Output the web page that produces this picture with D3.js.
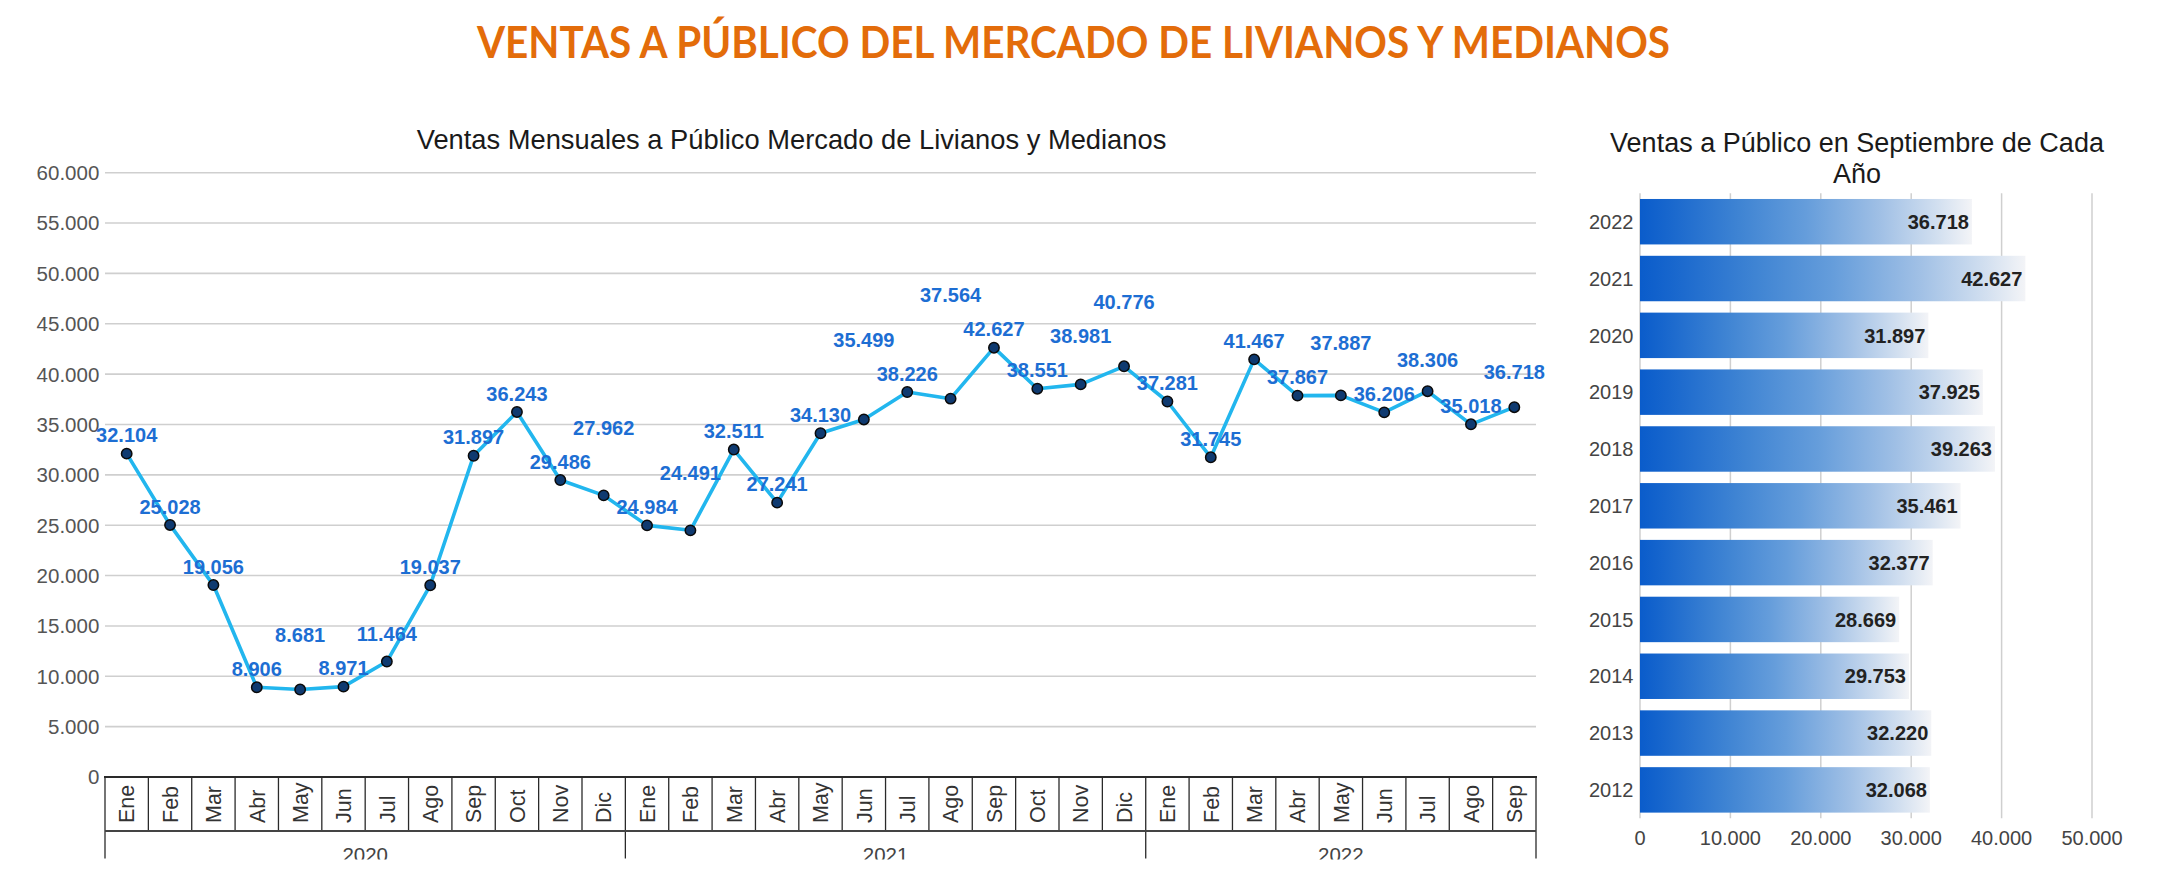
<!DOCTYPE html>
<html>
<head>
<meta charset="utf-8">
<script src="https://cdn.jsdelivr.net/npm/d3@7"></script>
<style>
  html, body { margin: 0; padding: 0; background: #ffffff; }
  svg { display: block; }
</style>
</head>
<body>
<svg id="chart" width="2158" height="896"></svg>
<script>
// ---------------- DATA ----------------
const mainTitle = "VENTAS A PÚBLICO DEL MERCADO DE LIVIANOS Y MEDIANOS";
const lineTitle = "Ventas Mensuales a Público Mercado de Livianos y Medianos";
const barTitleLines = ["Ventas a Público en Septiembre de Cada", "Año"];

const monthNames = ["Ene","Feb","Mar","Abr","May","Jun","Jul","Ago","Sep","Oct","Nov","Dic"];
const lineYears = ["2020","2021","2022"];
const monthsPerYear = [12, 12, 9];
const monthlySales = [
  32104, 25028, 19056, 8906, 8681, 8971, 11464, 19037, 31897, 36243, 29486, 27962,
  24984, 24491, 32511, 27241, 34130, 35499, 38226, 37564, 42627, 38551, 38981, 40776,
  37281, 31745, 41467, 37867, 37887, 36206, 38306, 35018, 36718
];
const lineYTicks = [0, 5000, 10000, 15000, 20000, 25000, 30000, 35000, 40000, 45000, 50000, 55000, 60000];

const septYears = ["2022","2021","2020","2019","2018","2017","2016","2015","2014","2013","2012"];
const septSales = [36718, 42627, 31897, 37925, 39263, 35461, 32377, 28669, 29753, 32220, 32068];
const barXTicks = [0, 10000, 20000, 30000, 40000, 50000];

// ---------------- SETUP ----------------
const FONT = "'Liberation Sans', Arial, sans-serif";
const loc = d3.formatLocale({decimal: ",", thousands: ".", grouping: [3], currency: ["$", ""]});
const fmt = loc.format(",d");
const svg = d3.select("#chart");
svg.append("rect").attr("width", 2158).attr("height", 896).attr("fill", "#fff");

// Main title
const mt = svg.append("text")
  .attr("x", 1073.5).attr("y", 58.3)
  .attr("text-anchor", "middle")
  .attr("font-family", "Lato, 'Open Sans', sans-serif")
  .attr("font-weight", 700)
  .attr("font-size", 44)
  .attr("fill", "#E36C0A")
  .text(mainTitle);
{
  const w = mt.node().getComputedTextLength();
  const target = 1193;
  if (Math.abs(w - target) > 4) mt.attr("textLength", target).attr("lengthAdjust", "spacingAndGlyphs");
}

// ---------------- LINE CHART ----------------
const categories = [];
lineYears.forEach((yr, yi) => {
  for (let m = 0; m < monthsPerYear[yi]; m++) categories.push({year: yr, month: monthNames[m], key: yr + "-" + m});
});
const data = categories.map((c, i) => ({...c, value: monthlySales[i]}));

const L = {left: 105, right: 1536, top: 172.7, bottom: 777, monthRow: 831, yearRow: 858.5};
const x = d3.scaleBand().domain(categories.map(d => d.key)).range([L.left, L.right]).paddingInner(0).paddingOuter(0);
const y = d3.scaleLinear().domain([0, 60000]).range([L.bottom, L.top]);
const xc = k => x(k) + x.bandwidth() / 2;

svg.append("text")
  .attr("x", 791.5).attr("y", 149.3)
  .attr("text-anchor", "middle")
  .attr("font-family", FONT).attr("font-size", 27.3).attr("fill", "#1a1a1a")
  .text(lineTitle);

const gl = svg.append("g");
// gridlines
gl.selectAll("line.grid").data(lineYTicks.filter(t => t > 0)).join("line")
  .attr("x1", L.left).attr("x2", L.right)
  .attr("y1", d => y(d)).attr("y2", d => y(d))
  .attr("stroke", "#cfcfcf").attr("stroke-width", 1.6);
// y labels
gl.selectAll("text.ylab").data(lineYTicks).join("text")
  .attr("x", 99.3).attr("y", d => y(d)).attr("dy", "0.36em")
  .attr("text-anchor", "end")
  .attr("font-family", FONT).attr("font-size", 20.5).attr("fill", "#555")
  .text(d => fmt(d));

// axis box
const box = svg.append("g").attr("stroke", "#2a2a2a").attr("fill", "none");
const boundaries = categories.map(c => x(c.key)).concat([L.right]);
box.selectAll("line.cell").data(boundaries).join("line")
  .attr("x1", d => d).attr("x2", d => d)
  .attr("y1", L.bottom).attr("y2", L.monthRow)
  .attr("stroke-width", 1.3);
// year separators
const yearStarts = [];
{
  let idx = 0;
  lineYears.forEach((yr, yi) => {
    const first = categories[idx].key;
    const last = categories[idx + monthsPerYear[yi] - 1].key;
    yearStarts.push({year: yr, x0: x(first), x1: x(last) + x.bandwidth()});
    idx += monthsPerYear[yi];
  });
}
const yearLines = yearStarts.map(d => d.x0).concat([L.right]);
box.selectAll("line.yr").data(yearLines).join("line")
  .attr("x1", d => d).attr("x2", d => d)
  .attr("y1", L.monthRow).attr("y2", L.yearRow)
  .attr("stroke-width", 1.3);
box.append("line").attr("x1", L.left - 1).attr("x2", L.right + 1).attr("y1", L.bottom).attr("y2", L.bottom).attr("stroke-width", 2.2);
box.append("line").attr("x1", L.left).attr("x2", L.right).attr("y1", L.monthRow).attr("y2", L.monthRow).attr("stroke-width", 2.2).attr("stroke", "#444");

// month labels
svg.append("g").selectAll("text").data(categories).join("text")
  .attr("transform", d => `translate(${xc(d.key)},${823}) rotate(-90)`)
  .attr("dy", "0.36em")
  .attr("text-anchor", "start")
  .attr("font-family", FONT).attr("font-size", 21.5).attr("fill", "#333")
  .text(d => d.month);

// year labels (clipped at bottom like the reference)
svg.append("clipPath").attr("id", "yrclip").append("rect")
  .attr("x", 0).attr("y", L.monthRow).attr("width", 2158).attr("height", 859.5 - L.monthRow);
svg.append("g").attr("clip-path", "url(#yrclip)")
  .selectAll("text").data(yearStarts).join("text")
  .attr("x", d => (d.x0 + d.x1) / 2).attr("y", 861.5)
  .attr("text-anchor", "middle")
  .attr("font-family", FONT).attr("font-size", 20.5).attr("fill", "#444")
  .text(d => d.year);

// line
const line = d3.line().x(d => xc(d.key)).y(d => y(d.value));
svg.append("path").datum(data)
  .attr("d", line).attr("fill", "none")
  .attr("stroke", "#22b6ee").attr("stroke-width", 3.6)
  .attr("stroke-linejoin", "round");

// points
svg.append("g").selectAll("circle").data(data).join("circle")
  .attr("cx", d => xc(d.key)).attr("cy", d => y(d.value))
  .attr("r", 5.2)
  .attr("fill", "#0f3a70").attr("stroke", "#0a0a0a").attr("stroke-width", 1.5);

// data labels with simple collision avoidance (stacking upward)
const lblG = svg.append("g");
const lbls = lblG.selectAll("text").data(data).join("text")
  .attr("text-anchor", "middle")
  .attr("font-family", FONT).attr("font-weight", 700).attr("font-size", 20)
  .attr("fill", "#1d6ed3")
  .text(d => fmt(d.value));
const widths = lbls.nodes().map(n => n.getComputedTextLength());
const OFF = 18.5, STEP = 34, COLLIDE = 30;
const pos = data.map((d, i) => {
  const def = y(d.value) - OFF;
  return {x: xc(d.key), w: widths[i], def, cy: def, raised: false};
});
const hOverlap = (a, b) => Math.abs(a.x - b.x) < (a.w + b.w) / 2 + 2;
for (let i = 1; i < pos.length; i++) {
  const cur = pos[i], prev = pos[i - 1];
  if (hOverlap(cur, prev) && Math.abs(cur.cy - prev.cy) < COLLIDE) {
    if (prev.raised && cur.def < prev.cy) {
      const left = (i >= 2 && hOverlap(pos[i - 2], prev)) ? pos[i - 2].cy : Infinity;
      prev.cy = Math.min(left, cur.cy) - STEP;
    } else {
      cur.cy = prev.cy - STEP;
      cur.raised = true;
    }
  }
}
lbls.attr("x", (d, i) => pos[i].x).attr("y", (d, i) => pos[i].cy).attr("dy", "0.36em");

// ---------------- BAR CHART ----------------
const R = {left: 1640, right: 2092, top: 193.3, bottom: 818.3};
const xr = d3.scaleLinear().domain([0, 50000]).range([R.left, R.right]);
const yr = d3.scaleBand().domain(septYears).range([R.top, R.bottom]).paddingInner(0.2).paddingOuter(0.1);

const tt = svg.append("text")
  .attr("text-anchor", "middle")
  .attr("font-family", FONT).attr("font-size", 27).attr("fill", "#1a1a1a");
barTitleLines.forEach((t, i) => {
  tt.append("tspan").attr("x", 1857).attr("y", 151.7 + i * 31).text(t);
});

const defs = svg.append("defs");
const grad = defs.append("linearGradient").attr("id", "barGrad")
  .attr("x1", "0").attr("x2", "1").attr("y1", "0").attr("y2", "0");
[[0, "#0a5ccb"], [0.08, "#1766cd"], [0.3, "#3f84d3"], [0.5, "#659ddb"], [0.72, "#9fbfe5"], [0.9, "#d3e0f0"], [1, "#f3f4f7"]]
  .forEach(([o, c]) => grad.append("stop").attr("offset", o).attr("stop-color", c));

svg.append("g").selectAll("line").data(barXTicks).join("line")
  .attr("x1", d => xr(d)).attr("x2", d => xr(d))
  .attr("y1", R.top).attr("y2", R.bottom)
  .attr("stroke", "#cfcfcf").attr("stroke-width", 1.5);

const bars = septYears.map((yrName, i) => ({year: yrName, value: septSales[i]}));
svg.append("g").selectAll("rect").data(bars).join("rect")
  .attr("x", xr(0)).attr("y", d => yr(d.year))
  .attr("width", d => xr(d.value) - xr(0)).attr("height", yr.bandwidth())
  .attr("fill", "url(#barGrad)");

svg.append("g").selectAll("text").data(bars).join("text")
  .attr("x", d => xr(d.value) - 3).attr("y", d => yr(d.year) + yr.bandwidth() / 2).attr("dy", "0.36em")
  .attr("text-anchor", "end")
  .attr("font-family", FONT).attr("font-weight", 700).attr("font-size", 20).attr("fill", "#222")
  .text(d => fmt(d.value));

svg.append("g").selectAll("text").data(bars).join("text")
  .attr("x", 1633.5).attr("y", d => yr(d.year) + yr.bandwidth() / 2).attr("dy", "0.36em")
  .attr("text-anchor", "end")
  .attr("font-family", FONT).attr("font-size", 20).attr("fill", "#444")
  .text(d => d.year);

svg.append("g").selectAll("text").data(barXTicks).join("text")
  .attr("x", d => xr(d)).attr("y", 845)
  .attr("text-anchor", "middle")
  .attr("font-family", FONT).attr("font-size", 20).attr("fill", "#444")
  .text(d => fmt(d));
</script>
</body>
</html>
